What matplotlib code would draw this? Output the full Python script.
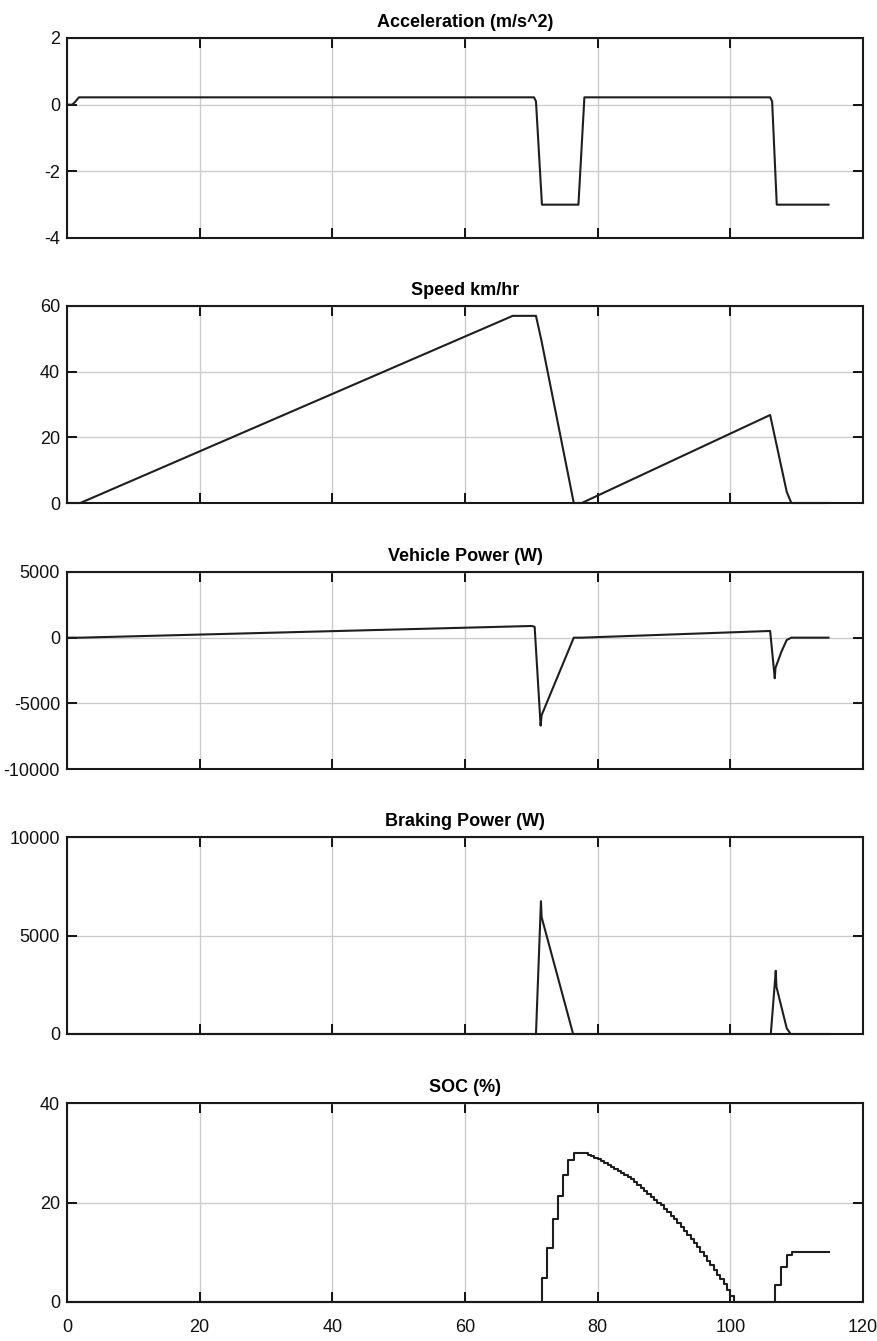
"""Drive cycle simulation traces: acceleration, speed, power and SOC."""

import matplotlib

matplotlib.use("Agg")

import matplotlib.pyplot as plt

# time breakpoints (s) and values for each trace
accel_t = [0, 0.8, 1.3, 1.8, 70.4, 70.7, 71.6, 77.1, 78.0, 106.0, 106.3, 107.0, 114.8]
accel = [0, 0, 0.1, 0.22, 0.22, 0.1, -3.0, -3.0, 0.22, 0.22, 0.1, -3.0, -3.0]

speed_t = [0, 2.0, 67.2, 70.7, 71.5, 76.4, 77.6, 106.0, 108.5, 109.2, 114.8]
speed = [0, 0, 57.0, 57.0, 49.7, 0, 0, 26.8, 3.4, 0, 0]

power_t = [0, 2.0, 70.1, 70.5, 71.4, 71.55, 76.4, 77.6, 106.0, 106.7, 106.8, 107.7, 108.5, 109.2, 114.8]
power = [0, 0, 890, 820, -6700, -5900, 0, 0, 510, -3090, -2310, -1070, -175, 0, 0]

brake_t = [0, 70.7, 71.45, 71.55, 76.3, 106.1, 106.85, 106.95, 108.5, 109.1, 114.8]
brake = [0, 0, 6740, 5930, 0, 0, 3210, 2400, 290, 0, 0]

soc_t = [0, 71.6, 72.4, 73.2, 74.0, 74.7, 75.6, 76.5,
         78.6, 79.0, 79.5, 80.0, 80.5, 81.0, 81.5, 82.0, 82.5, 83.0, 83.5,
         84.0, 84.5, 85.0, 85.5, 86.0, 86.5, 87.0, 87.5, 88.0, 88.5, 89.0,
         89.5, 90.0, 90.5, 91.0, 91.5, 92.0, 92.5, 93.0, 93.5, 94.0, 94.5,
         95.0, 95.5, 96.0, 96.5, 97.0, 97.5, 98.0, 98.5, 99.0, 99.5, 100.0,
         100.6, 101.2, 106.7, 107.7, 108.6, 109.3, 114.8]
soc = [0, 4.8, 10.8, 16.6, 21.4, 25.5, 28.5, 29.9,
       29.6, 29.3, 29.0, 28.7, 28.4, 28.0, 27.6, 27.2, 26.8, 26.4, 26.0,
       25.6, 25.2, 24.7, 24.1, 23.6, 23.0, 22.4, 21.8, 21.2, 20.6, 20.0,
       19.4, 18.7, 18.0, 17.3, 16.6, 15.9, 15.1, 14.3, 13.5, 12.7, 11.9,
       11.0, 10.1, 9.2, 8.3, 7.4, 6.5, 5.5, 4.6, 3.6, 2.4,
       1.2, 0, 0, 3.4, 7.1, 9.4, 10.0, 10.0]

x_ticks = [0, 20, 40, 60, 80, 100, 120]

panels = [
    ("Acceleration (m/s^2)", accel_t, accel, (-4, 2), [-4, -2, 0, 2]),
    ("Speed km/hr", speed_t, speed, (0, 60), [0, 20, 40, 60]),
    ("Vehicle Power (W)", power_t, power, (-10000, 5000), [-10000, -5000, 0, 5000]),
    ("Braking Power (W)", brake_t, brake, (0, 10000), [0, 5000, 10000]),
    ("SOC (%)", soc_t, soc, (0, 40), [0, 20, 40]),
]

# axes rows in pixels (top, bottom) on an 878x1341 canvas
rows_px = [(38, 238), (306, 503), (572, 769), (837, 1034), (1103, 1302)]
W, H = 878, 1341
LEFT, RIGHT = 67, 863

plt.rcParams["font.family"] = ["Liberation Sans Narrow", "Liberation Sans", "DejaVu Sans"]
plt.rcParams["axes.unicode_minus"] = False

fig = plt.figure(figsize=(W / 100, H / 100), dpi=100)
line_color = "#1e1e1e"

for i, (title, t, y, ylim, yticks) in enumerate(panels):
    top, bot = rows_px[i]
    ax = fig.add_axes([LEFT / W, 1 - bot / H, (RIGHT - LEFT) / W, (bot - top) / H])
    if title.startswith("SOC"):
        ax.step(t, y, where="post", color=line_color, linewidth=1.5, clip_on=False)
    else:
        ax.plot(t, y, color=line_color, linewidth=1.5, clip_on=False)
    ax.set_xlim(0, 120)
    ax.set_ylim(*ylim)
    ax.set_xticks(x_ticks)
    ax.set_yticks(yticks)
    ax.grid(True, color="#cccccc", linewidth=1.0)
    ax.set_axisbelow(True)
    ax.tick_params(direction="in", length=7, width=1.4, top=True, right=True,
                   labelsize=13, pad=5, colors="#111111")
    if i < len(panels) - 1:
        ax.tick_params(labelbottom=False)
    else:
        ax.tick_params(axis="x", pad=12)
    for spine in ax.spines.values():
        spine.set_linewidth(1.5)
        spine.set_color("#1a1a1a")
    ax.set_title(title, fontsize=13, fontweight="bold", pad=8)

fig.savefig("out.png", dpi=100)
